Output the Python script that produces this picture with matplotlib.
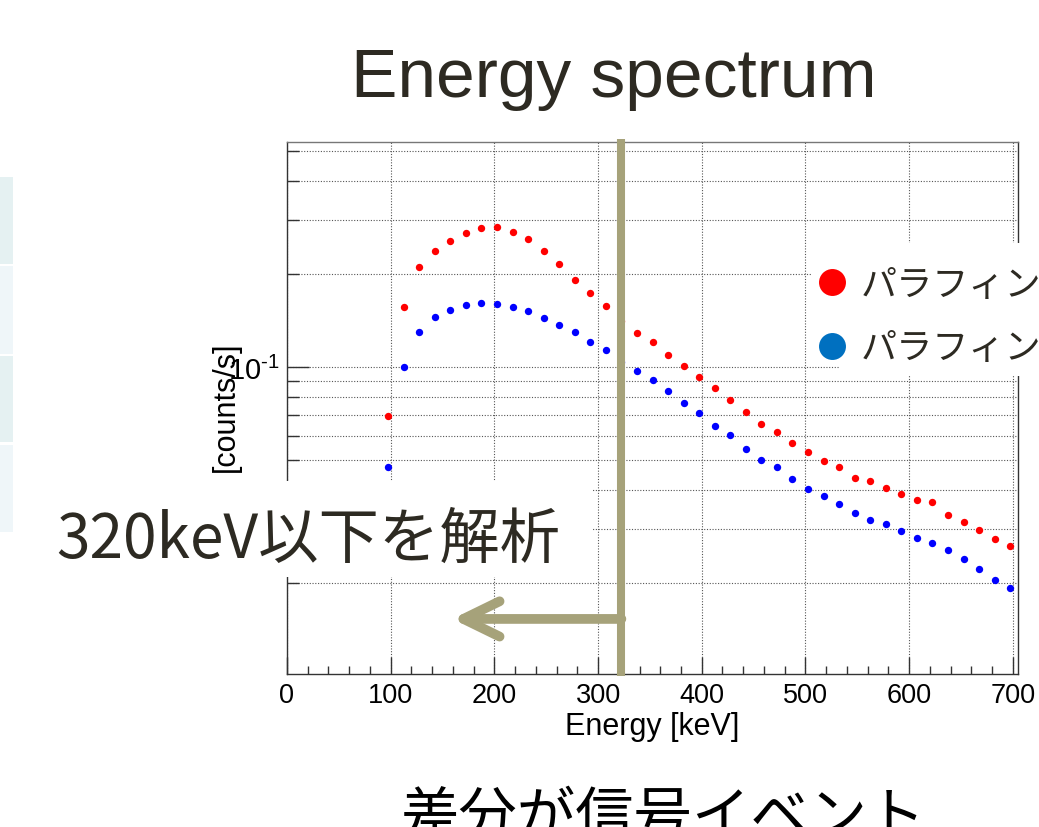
import matplotlib
matplotlib.use('Agg')
import matplotlib.pyplot as plt
from matplotlib.patches import Rectangle
from matplotlib.ticker import MultipleLocator, NullFormatter, LogLocator, FuncFormatter
import math

plt.rcParams['font.family'] = ['Liberation Sans', 'DejaVu Sans']
plt.rcParams['mathtext.default'] = 'regular'
plt.rcParams['mathtext.fontset'] = 'custom'
plt.rcParams['mathtext.rm'] = 'Liberation Sans'
plt.rcParams['mathtext.it'] = 'Liberation Sans'

# ---------------- data ----------------
energy_kev = [97.5, 112.5, 127.5, 142.5, 157.5, 172.5, 187.5, 202.5, 217.5, 232.5,
              247.5, 262.5, 277.5, 292.5, 307.5, 322.5, 337.5, 352.5, 367.5, 382.5,
              397.5, 412.5, 427.5, 442.5, 457.5, 472.5, 487.5, 502.5, 517.5, 532.5,
              547.5, 562.5, 577.5, 592.5, 607.5, 622.5, 637.5, 652.5, 667.5, 682.5,
              697.5]
rate_red = [0.0696, 0.1567, 0.2112, 0.2373, 0.2558, 0.2708, 0.2818, 0.2833, 0.2742, 0.2590,
            0.2373, 0.2154, 0.1912, 0.1732, 0.1580, 0.1412, 0.1285, 0.1202, 0.1091, 0.1005,
            0.0930, 0.0853, 0.0780, 0.0715, 0.0652, 0.0617, 0.0566, 0.0532, 0.0496, 0.0475,
            0.0438, 0.0429, 0.0407, 0.0389, 0.0372, 0.0365, 0.0332, 0.0315, 0.0297, 0.0277,
            0.0263]
rate_blue = [0.0473, 0.1000, 0.1301, 0.1448, 0.1525, 0.1587, 0.1615, 0.1595, 0.1560, 0.1514,
             0.1441, 0.1367, 0.1301, 0.1202, 0.1135, 0.1040, 0.0968, 0.0910, 0.0834, 0.0766,
             0.0708, 0.0643, 0.0604, 0.0544, 0.0502, 0.0475, 0.0433, 0.0403, 0.0382, 0.0361,
             0.0338, 0.0321, 0.0310, 0.0295, 0.0280, 0.0269, 0.0255, 0.0240, 0.0222, 0.0204,
             0.0192]
series_labels = ['パラフィンなし', 'パラフィンあり']
title_text = 'Energy spectrum'
xlabel_text = 'Energy [keV]'
ylabel_text = '[counts/s]'
note_text = '320keV以下を解析'
bottom_text = '差分が信号イベント'
cut_energy = 322.5        # analysis threshold marker (keV)
arrow_tip_energy = 159.5  # arrow tip (keV)
arrow_level = 0.0153      # arrow height (counts/s)

# ---------------- figure ----------------
W, H = 1039, 828
fig = plt.figure(figsize=(W / 100, H / 100), dpi=100)
fig.patch.set_facecolor('white')

def fx(x):
    return x / W

def fy(y):
    return 1 - y / H

ax = fig.add_axes([fx(287), fy(675), (1018 - 287) / W, (675 - 143) / H])
ax.set_xlim(0, 705)
ax.set_yscale('log')
ax.set_ylim(0.01015, 0.535)

ax.plot(energy_kev, rate_red, 'o', color='#ff0000', ms=5.3, mec='none',
        label=series_labels[0], zorder=3)
ax.plot(energy_kev, rate_blue, 'o', color='#0000ff', ms=5.3, mec='none',
        label=series_labels[1], zorder=3)

# ticks
def log_label(v, pos):
    e = int(round(math.log10(v)))
    s = str(e).replace('-', r'\text{-}')
    return r'$10^{%s}$' % s

ax.xaxis.set_major_locator(MultipleLocator(100))
ax.xaxis.set_minor_locator(MultipleLocator(20))
ax.yaxis.set_major_locator(LogLocator(base=10))
ax.yaxis.set_major_formatter(FuncFormatter(log_label))
ax.yaxis.set_minor_locator(LogLocator(base=10, subs=[2, 3, 4, 5, 6, 7, 8, 9]))
ax.yaxis.set_minor_formatter(NullFormatter())
ax.tick_params(axis='both', which='both', direction='in', top=False, right=False,
               color='#333333', width=1.0, labelcolor='black')
ax.tick_params(axis='x', which='major', length=12, labelsize=19.5, pad=6)
ax.tick_params(axis='x', which='minor', length=6)
ax.tick_params(axis='y', which='major', length=16, labelsize=21, pad=5)
ax.tick_params(axis='y', which='minor', length=8.6)

# grid
gstyle = dict(ls=(0, (1, 1.5)), lw=0.8, color='#555555')
ax.grid(True, which='major', axis='x', **gstyle)
ax.grid(True, which='both', axis='y', **gstyle)
ax.set_axisbelow(True)

for name, sp in ax.spines.items():
    sp.set_linewidth(1.0)
    sp.set_color('#333333')
ax.spines['top'].set_color('#777777')

ax.set_xlabel(xlabel_text, fontsize=22)
ax.xaxis.set_label_coords(0.5, -(712 - 675) / 532)
ax.set_ylabel(ylabel_text, fontsize=22)
ax.yaxis.set_label_coords((241 - 287) / 731, 0.504)

# threshold line and arrow
olive = '#a6a27a'
ax.axvline(cut_energy, ymin=-0.003, ymax=1.006, color=olive, lw=5.8,
           clip_on=False, zorder=6, solid_capstyle='butt')
ax.annotate('', xy=(arrow_tip_energy, arrow_level), xytext=(cut_energy, arrow_level),
            arrowprops=dict(arrowstyle='->,head_length=26,head_width=12.7',
                            mutation_scale=1, lw=7, color=olive,
                            shrinkA=0, shrinkB=0, capstyle='round', joinstyle='round'),
            zorder=6, annotation_clip=False)

# legend (white box over the plot area)
for (x0, y0, x1, y1) in [(812, 244, 1045, 365), (840, 244, 1045, 377)]:
    ax.add_patch(Rectangle((fx(x0), fy(y1)), (x1 - x0) / W, (y1 - y0) / H,
                           transform=fig.transFigure, facecolor='white',
                           edgecolor='none', zorder=4.5, clip_on=False))
leg = ax.legend(loc='upper left', bbox_to_anchor=(fx(814.6), fy(268)),
                bbox_transform=fig.transFigure, frameon=False,
                prop={'family': ['Noto Sans CJK JP', 'DejaVu Sans'], 'size': 26},
                handlelength=0.96, handletextpad=0.33, labelspacing=0.76,
                borderpad=0, borderaxespad=0, markerscale=19.4 / 5.3,
                labelcolor='#2d2a22')
leg.set_zorder(5)
for h, c in zip(leg.legend_handles, ['#ff0000', '#0070c0']):
    h.set_markerfacecolor(c)
    h.set_markeredgecolor('none')

# slide decorations
stripes = [(178, 265, '#e5f1f2'), (267, 355, '#eff6f9'),
           (357, 443, '#e5f1f2'), (446, 533, '#eff6f9')]
fig.patches.append(Rectangle((fx(20), fy(578)), (593 - 20) / W, (578 - 482) / H,
                             transform=fig.transFigure, facecolor='white',
                             edgecolor='none', zorder=4))
for (y0, y1, c) in stripes:
    fig.patches.append(Rectangle((0, fy(y1)), 13 / W, (y1 - y0) / H,
                                 transform=fig.transFigure, facecolor=c,
                                 edgecolor='none', zorder=5))

fig.text(fx(614), fy(97), title_text, ha='center', va='baseline', fontsize=50,
         color='#2d2a22', family=['Liberation Sans', 'DejaVu Sans'])
fig.text(fx(56), fy(558), note_text, ha='left', va='baseline', fontsize=43.5,
         color='#2d2a22', family=['Noto Sans CJK JP', 'DejaVu Sans'], zorder=6)
fig.text(fx(663.5), fy(835), bottom_text, ha='center', va='baseline', fontsize=42,
         color='#000000', family=['Noto Sans CJK JP', 'DejaVu Sans'], zorder=6)

fig.savefig('out.png', dpi=100)
